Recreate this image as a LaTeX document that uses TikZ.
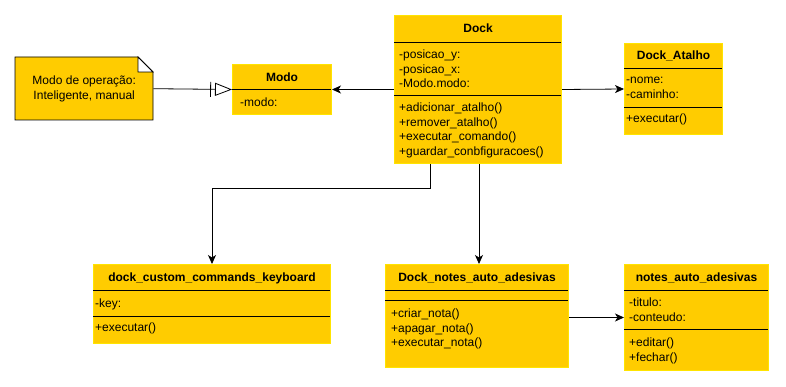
\documentclass[tikz,border=0pt]{standalone}
\usepackage{fontspec}
\setmainfont{Liberation Sans}
\usetikzlibrary{arrows.meta,calc}

\definecolor{classfill}{HTML}{FFCC00}
\definecolor{classedge}{HTML}{FFE400}

\tikzset{
  uml/.style={draw=classedge, fill=classfill, line width=1pt, anchor=north west, inner sep=0pt},
  title/.style={font=\fontsize{12}{14.5}\selectfont\bfseries},
  members/.style={anchor=north west, inner sep=0pt, align=left},
  rule/.style={line width=0.8pt},
  assoc/.style={line width=0.8pt, -{Stealth[length=9pt,width=8pt,inset=2.5pt]}},
  realize/.style={line width=0.8pt, -{Bar[width=15pt,sep=4pt]Triangle[open,length=17pt,width=13pt]}},
}

\begin{document}
\begin{tikzpicture}[x=1pt,y=-1pt,font=\fontsize{12}{14.5}\selectfont]
  \useasboundingbox (0,0) rectangle (786,387);

  % note with folded corner
  \draw[line width=0.8pt, fill=classfill] (15,57) -- (138,57) -- (153,72) -- (153,120) -- (15,120) -- cycle;
  \draw[line width=0.8pt, fill=white] (138,57) -- (138,72) -- (153,72) -- cycle;
  \node[anchor=north west, minimum width=138pt, minimum height=63pt, align=center] (note) at (15,57)
    {Modo de operação:\\Inteligente, manual};

  % Modo
  \node[uml, minimum width=99pt, minimum height=50pt] (modo) at (232,64) {};
  \node[title] (modo-name) at ($(modo.north)+(0,13)$) {Modo};
  \draw[rule] ($(modo.north west)+(0,25)$) -- ++(99,0);
  \node[members] (modo-attr) at ($(modo.north west)+(8,34)$) {-modo:};

  % Dock
  \node[uml, minimum width=167pt, minimum height=148pt] (dock) at (394,15) {};
  \node[title] (dock-name) at ($(dock.north)+(0,13)$) {Dock};
  \draw[rule] ($(dock.north west)+(0,27)$) -- ++(167,0);
  \node[members] (dock-attr) at ($(dock.north west)+(5,35)$)
    {-posicao\_y:\\-posicao\_x:\\-Modo.modo:};
  \draw[rule] ($(dock.north west)+(0,80)$) -- ++(167,0);
  \node[members] (dock-ops) at ($(dock.north west)+(5,88)$)
    {+adicionar\_atalho()\\+remover\_atalho()\\+executar\_comando()\\+guardar\_conbfiguracoes()};

  % Dock_Atalho
  \node[uml, minimum width=98pt, minimum height=91pt] (atalho) at (624,43) {};
  \node[title] (atalho-name) at ($(atalho.north)+(0,13)$) {Dock\_Atalho};
  \draw[rule] ($(atalho.north west)+(0,25)$) -- ++(98,0);
  \node[members] (atalho-attr) at ($(atalho.north west)+(2,34)$) {-nome:\\-caminho:};
  \draw[rule] ($(atalho.north west)+(0,64)$) -- ++(98,0);
  \node[members] (atalho-ops) at ($(atalho.north west)+(2,71)$) {+executar()};

  % dock_custom_commands_keyboard
  \node[uml, minimum width=237pt, minimum height=79pt] (keyboard) at (93,264) {};
  \node[title] (keyboard-name) at ($(keyboard.north)+(0,14)$) {dock\_custom\_commands\_keyboard};
  \draw[rule] ($(keyboard.north west)+(0,26)$) -- ++(237,0);
  \node[members] (keyboard-attr) at ($(keyboard.north west)+(2,35)$) {-key:};
  \draw[rule] ($(keyboard.north west)+(0,52)$) -- ++(237,0);
  \node[members] (keyboard-ops) at ($(keyboard.north west)+(2,59)$) {+executar()};

  % Dock_notes_auto_adesivas
  \node[uml, minimum width=183pt, minimum height=103pt] (dnotes) at (385,264) {};
  \node[title] (dnotes-name) at ($(dnotes.north)+(0,14)$) {Dock\_notes\_auto\_adesivas};
  \draw[rule] ($(dnotes.north west)+(0,26)$) -- ++(183,0);
  \draw[rule] ($(dnotes.north west)+(0,36)$) -- ++(183,0);
  \node[members] (dnotes-ops) at ($(dnotes.north west)+(6,45)$)
    {+criar\_nota()\\+apagar\_nota()\\+executar\_nota()};

  % notes_auto_adesivas
  \node[uml, minimum width=144pt, minimum height=106pt] (notes) at (624,264) {};
  \node[title] (notes-name) at ($(notes.north)+(0,14)$) {notes\_auto\_adesivas};
  \draw[rule] ($(notes.north west)+(0,26)$) -- ++(144,0);
  \node[members] (notes-attr) at ($(notes.north west)+(5,34)$) {-titulo:\\-conteudo:};
  \draw[rule] ($(notes.north west)+(0,65)$) -- ++(144,0);
  \node[members] (notes-ops) at ($(notes.north west)+(5,74)$) {+editar()\\+fechar()};

  % connectors
  \draw[realize] (note.east) -- (modo.west);
  \draw[assoc] (dock.west) -- (modo.east);
  \draw[assoc] (dock.east) -- (atalho.west);
  \coordinate (kbd-out) at ($(dock.south west)+(36,0)$);
  \draw[assoc] (kbd-out) -- ++(0,24) -| (keyboard.north);
  \coordinate (dnotes-out) at ($(dock.south west)+(85,0)$);
  \draw[assoc] (dnotes-out) -- (dnotes-out |- dnotes.north);
  \draw[assoc] (notes.west -| dnotes.east) -- (notes.west);
\end{tikzpicture}
\end{document}
